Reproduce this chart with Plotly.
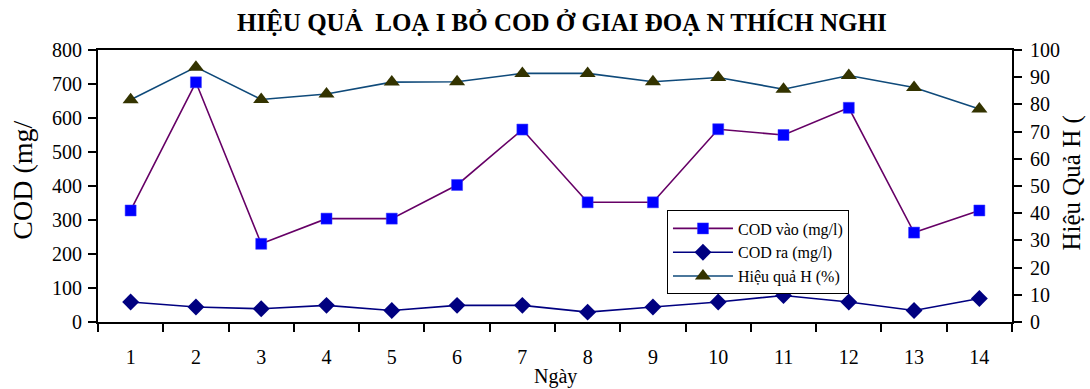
import plotly.graph_objects as go

# Số liệu theo ngày
ngay = ["1", "2", "3", "4", "5", "6", "7", "8", "9", "10", "11", "12", "13", "14"]
cod_vao = [328, 705, 230, 304, 304, 403, 566, 352, 352, 567, 550, 630, 263, 328]
cod_ra = [59, 44, 39, 49, 34, 49, 49, 29, 44, 59, 78, 59, 34, 69]
hieu_qua = [81.7, 93.7, 81.8, 83.8, 88.2, 88.3, 91.4, 91.4, 88.3, 89.9, 85.6, 90.6, 86.2, 78.3]

FONT = "Liberation Serif, Times New Roman, serif"

fig = go.Figure()
fig.add_trace(go.Scatter(
    x=ngay, y=cod_vao, name="COD vào (mg/l)", mode="lines+markers",
    line=dict(color="#660066", width=1.6),
    marker=dict(symbol="square", size=11, color="#0000FF",
                line=dict(color="#3a3aff", width=0.5)),
))
fig.add_trace(go.Scatter(
    x=ngay, y=cod_ra, name="COD ra (mg/l)", mode="lines+markers",
    line=dict(color="#000080", width=1.6),
    marker=dict(symbol="diamond", size=13, color="#000080"),
))
fig.add_trace(go.Scatter(
    x=ngay, y=hieu_qua, name="Hiệu quả H (%)", mode="lines+markers", yaxis="y2",
    line=dict(color="#0F4A7A", width=1.6),
    marker=dict(symbol="triangle-up", size=14, color="#333300"),
))

axis_common = dict(
    showgrid=False, zeroline=False, showline=True, linecolor="black",
    linewidth=2, ticks="outside", ticklen=8, tickwidth=1.5, tickcolor="black",
    tickfont=dict(family=FONT, size=20, color="black"),
)

fig.update_layout(
    width=1090, height=389,
    margin=dict(l=98, r=78, t=50, b=67),
    paper_bgcolor="white", plot_bgcolor="white",
    font=dict(family=FONT, color="black"),
    showlegend=True,
    xaxis=dict(
        type="category", tickson="boundaries", range=[-0.5, 13.5],
        mirror=True, ticklabelstandoff=16, **axis_common,
    ),
    yaxis=dict(range=[0, 800], dtick=100, ticklabelstandoff=2, **axis_common),
    yaxis2=dict(range=[0, 100], dtick=10, overlaying="y", side="right",
                ticklabelstandoff=4, **axis_common),
    legend=dict(
        x=0.6225, y=0.41, xanchor="left", yanchor="top",
        bgcolor="white", bordercolor="black", borderwidth=1,
        font=dict(family=FONT, size=16, color="black"),
        itemwidth=60, tracegroupgap=0,
    ),
    annotations=[
        dict(text="<b>HIỆU QUẢ  LOẠ I BỎ COD Ở GIAI ĐOẠ N THÍCH NGHI</b>",
             xref="paper", yref="paper", x=0.508, y=1.0, yshift=28,
             xanchor="center", yanchor="middle", showarrow=False,
             font=dict(family=FONT, size=25, color="black")),
        dict(text="COD (mg/", xref="paper", yref="paper",
             x=-0.083, y=0.52, xanchor="center", yanchor="middle",
             textangle=-90, showarrow=False,
             font=dict(family=FONT, size=28, color="black")),
        dict(text="Hiệu Quả H (", xref="paper", yref="paper",
             x=1.066, y=0.51, xanchor="center", yanchor="middle",
             textangle=-90, showarrow=False,
             font=dict(family=FONT, size=25, color="black")),
        dict(text="Ngày", xref="paper", yref="paper",
             x=0.5, y=0, yshift=-54, xanchor="center", yanchor="middle",
             showarrow=False,
             font=dict(family=FONT, size=20, color="black")),
    ],
)

fig.write_html("out.html")
